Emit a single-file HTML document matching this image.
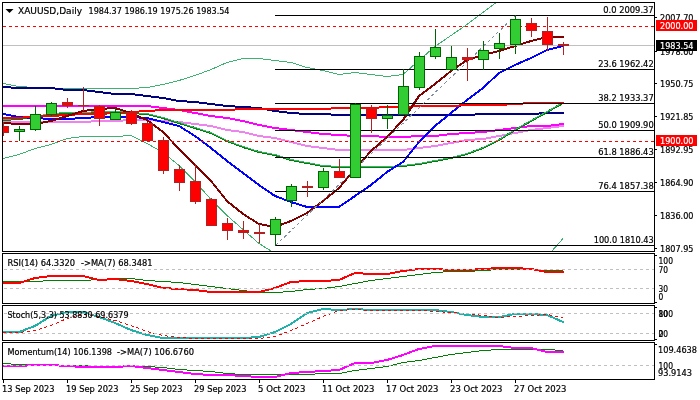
<!DOCTYPE html><html><head><meta charset="utf-8"><style>html,body{margin:0;padding:0;background:#fff;width:700px;height:400px;overflow:hidden}</style></head><body><svg width="700" height="400" viewBox="0 0 700 400" style="display:block" font-family='"DejaVu Sans Condensed", "DejaVu Sans", "Liberation Sans", sans-serif'>
<rect x="0" y="0" width="700" height="400" fill="#fff"/>
<defs><clipPath id="cm"><rect x="3" y="3" width="651" height="248"/></clipPath><clipPath id="cr"><rect x="3" y="254" width="651" height="49"/></clipPath><clipPath id="cs"><rect x="3" y="306" width="651" height="34"/></clipPath><clipPath id="cmo"><rect x="3" y="343" width="651" height="36"/></clipPath></defs>
<g clip-path="url(#cm)" shape-rendering="crispEdges" stroke-linejoin="round">
<polyline points="3,83.5 19,86.5 35,87.5 51,88.5 67,88.5 83,88.5 99,88.5 115,88.5 131,88.5 147,87.5 163,84.5 179,80.5 195,75.5 211,69.5 227,62.5 243,58.5 259,58.5 275,60.5 291,62.5 307,67.5 323,70.5 339,74.5 355,72.5 371,74.5 387,76.5 403,74.5 419,60.5 435,46.5 451,35.5 467,24.5 483,12.5 499,0.5 515,-14.5 531,-24.5 547,-29.5 563,-34.5" fill="none" stroke="#3cb371" stroke-width="1" />
<polyline points="3,158.5 19,154.5 35,148.5 51,144.5 67,138.5 83,136.5 99,136.5 115,136.5 131,135.5 147,143.5 163,152.5 179,165.5 195,181.5 211,199.5 227,215.5 243,229.5 259,243.5 275,253.5 291,260.5 307,272.5 323,278.5 339,283.5 355,288.5 371,292.5 387,295.5 403,297.5 419,298.5 435,298.5 451,297.5 467,295.5 483,292.5 499,288.5 515,282.5 531,274.5 547,256.5 563,238.5" fill="none" stroke="#3cb371" stroke-width="1" />
<polyline points="3,87 19,88 35,88 51,88 67,90 83,90 99,92 115,94 131,94 147,96 163,98 179,101 195,102 211,104 227,106 243,107 259,108 275,111 291,113 307,114 323,114 339,115 355,115 371,115 387,115 403,115 419,115 435,115 451,115 467,115 483,114 499,114 515,114 531,114 547,113 563,113" fill="none" stroke="#000080" stroke-width="2" stroke-linecap="square" />
<polyline points="3,122 19,122 35,122 51,122 67,122 83,122 99,121 115,121 131,120 147,120 163,121 179,122 195,124 211,126 227,130 243,132 259,136 275,138 291,142 307,146 323,148 339,150 355,150 371,150 387,150 403,150 419,148 435,146 451,143 467,140 483,139 499,136 515,133 531,130 547,128 563,126" fill="none" stroke="#ee82ee" stroke-width="2" stroke-linecap="square" />
<polyline points="3,106 19,106 35,106 51,106 67,106 83,106 99,106 115,106 131,106 147,106 163,108 179,110 195,113 211,116 227,118 243,121 259,125 275,128 291,130 307,132 323,134 339,135 355,136 371,136 387,137 403,137 419,136 435,136 451,134 467,133 483,132 499,130 515,128 531,126 547,126 563,124" fill="none" stroke="#ff00ff" stroke-width="2" stroke-linecap="square" />
<polyline points="3,120 19,119 35,117 51,114 67,113 83,113 99,112 115,112 131,113 147,114 163,118 179,123 195,128 211,133 227,141 243,147 259,152 275,155 291,160 307,163 323,166 339,167 355,167 371,167 387,167 403,166 419,164 435,161 451,158 467,154 483,148 499,140 515,130 531,121 547,112 563,103" fill="none" stroke="#008000" stroke-width="2" stroke-linecap="square" />
<polyline points="3,119.5 19,118.5 35,116.5 51,113.5 67,112.5 83,112.5 99,111.5 115,111.5 131,112.5 147,113.5 163,117.5 179,122.5 195,127.5 211,132.5 227,140.5 243,146.5 259,151.5 275,154.5 291,159.5 307,162.5 323,165.5 339,166.5 355,166.5 371,166.5 387,166.5 403,165.5 419,163.5 435,160.5 451,157.5 467,153.5 483,147.5 499,139.5 515,129.5 531,120.5 547,111.5 563,102.5" fill="none" stroke="#3cb371" stroke-width="1" />
<polyline points="3,114 19,117 35,118 51,119 67,119 83,118 99,117 115,117 131,117 147,118 163,122 179,126 195,136 211,148 227,161 243,173 259,185 275,196 291,202 307,207 323,207 339,207 355,196 371,185 387,172 403,162 419,142 435,126 451,113 467,100 483,88 499,73 515,65 531,58 547,50 563,46" fill="none" stroke="#0000ff" stroke-width="2" stroke-linecap="square" />
<polyline points="3,118 19,118 35,116 51,116 67,115 83,114 99,114 115,113 131,112 147,111 163,110 179,110 195,110 211,110 227,110 243,109 259,109 275,109 291,109 307,109 323,109 339,108 355,108 371,108 387,107 403,107 419,106 435,106 451,106 467,105 483,105 499,105 515,104 531,103 547,103 563,103" fill="none" stroke="#ff0000" stroke-width="2" stroke-linecap="square" />
<polyline points="3,123 19,124 35,124 51,121 67,116 83,111 99,109 115,108 131,113 147,120 163,132 179,149 195,165 211,181 227,201 243,214 259,224 275,227 291,221 307,213 323,201 339,188 355,169 371,151 387,137 403,120 419,96 435,84 451,71 467,60 483,55 499,51 515,46 531,41 547,37 563,37" fill="none" stroke="#800000" stroke-width="2" stroke-linecap="square" />
</g>
<g clip-path="url(#cm)" shape-rendering="crispEdges">
<line x1="3" y1="26.5" x2="654" y2="26.5" stroke="#ff0000" stroke-dasharray="3 3"/>
<line x1="3" y1="141.5" x2="654" y2="141.5" stroke="#ff0000" stroke-dasharray="3 3"/>
<line x1="3" y1="45.5" x2="656" y2="45.5" stroke="#c0c0c0"/>
<line x1="275" y1="15.5" x2="654" y2="15.5" stroke="#000"/>
<line x1="275" y1="69.5" x2="654" y2="69.5" stroke="#000"/>
<line x1="275" y1="103.5" x2="654" y2="103.5" stroke="#000"/>
<line x1="275" y1="130.5" x2="654" y2="130.5" stroke="#000"/>
<line x1="275" y1="157.5" x2="654" y2="157.5" stroke="#000"/>
<line x1="275" y1="191.5" x2="654" y2="191.5" stroke="#000"/>
<line x1="275" y1="245.5" x2="654" y2="245.5" stroke="#000"/>
</g>
<line x1="275.5" y1="245.5" x2="515.5" y2="15.5" stroke="#8090a0" stroke-width="1" stroke-dasharray="3 3" clip-path="url(#cm)" shape-rendering="crispEdges"/>
<g clip-path="url(#cm)" shape-rendering="crispEdges">
<line x1="3.5" y1="122" x2="3.5" y2="136" stroke="#b22222"/>
<rect x="-1.5" y="126.5" width="10" height="6" fill="#ff0000" stroke="#b22222"/>
<line x1="19.5" y1="126" x2="19.5" y2="141" stroke="#006400"/>
<rect x="14.5" y="129.5" width="10" height="2" fill="#32cd32" stroke="#006400"/>
<line x1="35.5" y1="106" x2="35.5" y2="131" stroke="#006400"/>
<rect x="30.5" y="114.5" width="10" height="15" fill="#32cd32" stroke="#006400"/>
<line x1="51.5" y1="102" x2="51.5" y2="116" stroke="#006400"/>
<rect x="46.5" y="103.5" width="10" height="11" fill="#32cd32" stroke="#006400"/>
<line x1="67.5" y1="98" x2="67.5" y2="108" stroke="#b22222"/>
<rect x="62.5" y="102.5" width="10" height="3" fill="#ff0000" stroke="#b22222"/>
<line x1="83.5" y1="87" x2="83.5" y2="111" stroke="#b22222"/>
<rect x="78" y="105" width="11" height="1" fill="#b22222"/>
<line x1="99.5" y1="105" x2="99.5" y2="126" stroke="#b22222"/>
<rect x="94.5" y="106.5" width="10" height="12" fill="#ff0000" stroke="#b22222"/>
<line x1="115.5" y1="108" x2="115.5" y2="120" stroke="#006400"/>
<rect x="110.5" y="112.5" width="10" height="7" fill="#32cd32" stroke="#006400"/>
<line x1="131.5" y1="110" x2="131.5" y2="125" stroke="#b22222"/>
<rect x="126.5" y="112.5" width="10" height="11" fill="#ff0000" stroke="#b22222"/>
<line x1="147.5" y1="122" x2="147.5" y2="141" stroke="#b22222"/>
<rect x="142.5" y="123.5" width="10" height="17" fill="#ff0000" stroke="#b22222"/>
<line x1="163.5" y1="137" x2="163.5" y2="174" stroke="#b22222"/>
<rect x="158.5" y="140.5" width="10" height="30" fill="#ff0000" stroke="#b22222"/>
<line x1="179.5" y1="165" x2="179.5" y2="191" stroke="#b22222"/>
<rect x="174.5" y="169.5" width="10" height="13" fill="#ff0000" stroke="#b22222"/>
<line x1="195.5" y1="164" x2="195.5" y2="204" stroke="#b22222"/>
<rect x="190.5" y="181.5" width="10" height="20" fill="#ff0000" stroke="#b22222"/>
<line x1="211.5" y1="198" x2="211.5" y2="226" stroke="#b22222"/>
<rect x="206.5" y="199.5" width="10" height="26" fill="#ff0000" stroke="#b22222"/>
<line x1="227.5" y1="218" x2="227.5" y2="240" stroke="#b22222"/>
<rect x="222.5" y="223.5" width="10" height="7" fill="#ff0000" stroke="#b22222"/>
<line x1="243.5" y1="221" x2="243.5" y2="239" stroke="#b22222"/>
<rect x="238.5" y="230.5" width="10" height="2" fill="#ff0000" stroke="#b22222"/>
<line x1="259.5" y1="224" x2="259.5" y2="243" stroke="#b22222"/>
<rect x="254" y="232" width="11" height="2" fill="#b22222"/>
<line x1="275.5" y1="217" x2="275.5" y2="246" stroke="#006400"/>
<rect x="270.5" y="219.5" width="10" height="15" fill="#32cd32" stroke="#006400"/>
<line x1="291.5" y1="184" x2="291.5" y2="207" stroke="#006400"/>
<rect x="286.5" y="186.5" width="10" height="14" fill="#32cd32" stroke="#006400"/>
<line x1="307.5" y1="181" x2="307.5" y2="197" stroke="#b22222"/>
<rect x="302" y="186" width="11" height="2" fill="#b22222"/>
<line x1="323.5" y1="168" x2="323.5" y2="190" stroke="#006400"/>
<rect x="318.5" y="171.5" width="10" height="16" fill="#32cd32" stroke="#006400"/>
<line x1="339.5" y1="159" x2="339.5" y2="178" stroke="#b22222"/>
<rect x="334.5" y="171.5" width="10" height="6" fill="#ff0000" stroke="#b22222"/>
<line x1="355.5" y1="103" x2="355.5" y2="178" stroke="#006400"/>
<rect x="350.5" y="104.5" width="10" height="73" fill="#32cd32" stroke="#006400"/>
<line x1="371.5" y1="105" x2="371.5" y2="133" stroke="#b22222"/>
<rect x="366.5" y="108.5" width="10" height="10" fill="#ff0000" stroke="#b22222"/>
<line x1="387.5" y1="105" x2="387.5" y2="129" stroke="#006400"/>
<rect x="382.5" y="115.5" width="10" height="3" fill="#32cd32" stroke="#006400"/>
<line x1="403.5" y1="69" x2="403.5" y2="115" stroke="#006400"/>
<rect x="398.5" y="86.5" width="10" height="28" fill="#32cd32" stroke="#006400"/>
<line x1="419.5" y1="52" x2="419.5" y2="90" stroke="#006400"/>
<rect x="414.5" y="56.5" width="10" height="31" fill="#32cd32" stroke="#006400"/>
<line x1="435.5" y1="29" x2="435.5" y2="59" stroke="#006400"/>
<rect x="430.5" y="47.5" width="10" height="9" fill="#32cd32" stroke="#006400"/>
<line x1="451.5" y1="46" x2="451.5" y2="71" stroke="#006400"/>
<rect x="446.5" y="57.5" width="10" height="12" fill="#32cd32" stroke="#006400"/>
<line x1="467.5" y1="48" x2="467.5" y2="81" stroke="#b22222"/>
<rect x="462.5" y="57.5" width="10" height="2" fill="#ff0000" stroke="#b22222"/>
<line x1="483.5" y1="41" x2="483.5" y2="70" stroke="#006400"/>
<rect x="478.5" y="50.5" width="10" height="9" fill="#32cd32" stroke="#006400"/>
<line x1="499.5" y1="33" x2="499.5" y2="59" stroke="#006400"/>
<rect x="494.5" y="43.5" width="10" height="5" fill="#32cd32" stroke="#006400"/>
<line x1="515.5" y1="15" x2="515.5" y2="54" stroke="#006400"/>
<rect x="510.5" y="19.5" width="10" height="25" fill="#32cd32" stroke="#006400"/>
<line x1="531.5" y1="18" x2="531.5" y2="37" stroke="#b22222"/>
<rect x="526.5" y="23.5" width="10" height="7" fill="#ff0000" stroke="#b22222"/>
<line x1="547.5" y1="17" x2="547.5" y2="51" stroke="#b22222"/>
<rect x="542.5" y="31.5" width="10" height="13" fill="#ff0000" stroke="#b22222"/>
<line x1="563.5" y1="42" x2="563.5" y2="55" stroke="#b22222"/>
<rect x="558" y="44" width="11" height="2" fill="#b22222"/>
</g>
<text x="653.7" y="13" font-size="9.5" text-anchor="end" fill="#000" stroke="#000" stroke-width="0.2" textLength="50.5" lengthAdjust="spacingAndGlyphs" >0.0 2009.37</text>
<text x="653.7" y="67" font-size="9.5" text-anchor="end" fill="#000" stroke="#000" stroke-width="0.2" textLength="55.5" lengthAdjust="spacingAndGlyphs" >23.6 1962.42</text>
<text x="653.7" y="101" font-size="9.5" text-anchor="end" fill="#000" stroke="#000" stroke-width="0.2" textLength="55.5" lengthAdjust="spacingAndGlyphs" >38.2 1933.37</text>
<text x="653.7" y="128" font-size="9.5" text-anchor="end" fill="#000" stroke="#000" stroke-width="0.2" textLength="55.5" lengthAdjust="spacingAndGlyphs" >50.0 1909.90</text>
<text x="653.7" y="155" font-size="9.5" text-anchor="end" fill="#000" stroke="#000" stroke-width="0.2" textLength="55.5" lengthAdjust="spacingAndGlyphs" >61.8 1886.43</text>
<text x="653.7" y="189" font-size="9.5" text-anchor="end" fill="#000" stroke="#000" stroke-width="0.2" textLength="55.5" lengthAdjust="spacingAndGlyphs" >76.4 1857.38</text>
<text x="653.7" y="243" font-size="9.5" text-anchor="end" fill="#000" stroke="#000" stroke-width="0.2" textLength="60" lengthAdjust="spacingAndGlyphs" >100.0 1810.43</text>
<path d="M5.5,9 H13.5 L9.5,13 Z" fill="#000"/>
<text x="18" y="14" font-size="9.5" text-anchor="start" fill="#000" stroke="#000" stroke-width="0.2" textLength="64" lengthAdjust="spacingAndGlyphs" >XAUUSD,Daily</text>
<text x="88.5" y="14" font-size="9.5" text-anchor="start" fill="#000" stroke="#000" stroke-width="0.2" textLength="141" lengthAdjust="spacingAndGlyphs" >1984.37 1986.19 1975.26 1983.54</text>
<g clip-path="url(#cr)" shape-rendering="crispEdges">
<polyline points="3,281.5 19,281.5 35,281.5 51,280.5 67,280.5 83,280.5 99,279.5 115,278.5 131,278.5 147,280.5 163,281.5 179,282.5 195,284.5 211,286.5 227,288.5 243,290.5 259,292.5 275,292.5 291,291.5 307,289.5 323,288.5 339,286.5 355,283.5 371,280.5 387,278.5 403,276.5 419,274.5 435,272.5 451,271.5 467,271.5 483,270.5 499,269.5 515,269.5 531,269.5 547,270.5 563,270.5" fill="none" stroke="#008000" stroke-width="1" />
<polyline points="3,283 19,283 35,278 51,276 67,276 83,276 99,280 115,279 131,281 147,284 163,288 179,289 195,290 211,292 227,292 243,292 259,292 275,288 291,282 307,281 323,281 339,280 355,273 371,274 387,274 403,271 419,269 435,269 451,270 467,270 483,269 499,268 515,268 531,269 547,272 563,272" fill="none" stroke="#ff0000" stroke-width="2" stroke-linecap="square" />
</g>
<g shape-rendering="crispEdges">
<line x1="4" y1="269.5" x2="654" y2="269.5" stroke="#c0c0c0" stroke-dasharray="3 3"/>
<line x1="4" y1="288.5" x2="654" y2="288.5" stroke="#c0c0c0" stroke-dasharray="3 3"/>
</g>
<text x="7.5" y="266" font-size="9.5" text-anchor="start" fill="#000" stroke="#000" stroke-width="0.2" textLength="67.5" lengthAdjust="spacingAndGlyphs" >RSI(14) 64.3320</text>
<text x="81" y="266" font-size="9.5" text-anchor="start" fill="#000" stroke="#000" stroke-width="0.2" textLength="71.5" lengthAdjust="spacingAndGlyphs" >-&gt;MA(7) 68.3481</text>
<g clip-path="url(#cs)" shape-rendering="crispEdges">
<polyline points="3,332 19,332 35,326 51,316 67,312 83,312 99,317 115,323 131,330 147,335 163,338 179,338 195,338 211,338 227,338 243,338 259,337 275,332 291,324 307,313 323,309 339,310 355,309 371,310 387,310 403,310 419,310 435,310 451,312 467,315 483,317 499,317 515,314 531,314 547,315 563,322" fill="none" stroke="#20b2aa" stroke-width="2" stroke-linecap="square" />
<polyline points="3,332.5 19,332.5 35,330.5 51,325.5 67,318.5 83,314.5 99,316.5 115,320.5 131,325.5 147,331.5 163,335.5 179,337.5 195,338.5 211,338.5 227,338.5 243,338.5 259,338.5 275,336.5 291,330.5 307,323.5 323,316.5 339,310.5 355,309.5 371,310.5 387,310.5 403,310.5 419,310.5 435,311.5 451,312.5 467,313.5 483,315.5 499,317.5 515,316.5 531,315.5 547,314.5 563,317.5" fill="none" stroke="#ff0000" stroke-width="1" stroke-dasharray="3 3"/>
</g>
<g shape-rendering="crispEdges">
<line x1="4" y1="313.5" x2="654" y2="313.5" stroke="#c0c0c0" stroke-dasharray="3 3"/>
<line x1="4" y1="333.5" x2="654" y2="333.5" stroke="#c0c0c0" stroke-dasharray="3 3"/>
</g>
<text x="7.5" y="318" font-size="9.5" text-anchor="start" fill="#000" stroke="#000" stroke-width="0.2" textLength="121" lengthAdjust="spacingAndGlyphs" >Stoch(5,3,3) 53.8830 69.6379</text>
<g clip-path="url(#cmo)" shape-rendering="crispEdges">
<polyline points="3,363.5 19,364.5 35,364.5 51,364.5 67,365.5 83,365.5 99,366.5 115,366.5 131,366.5 147,366.5 163,367.5 179,369.5 195,370.5 211,371.5 227,373.5 243,374.5 259,374.5 275,374.5 291,374.5 307,374.5 323,373.5 339,373.5 355,370.5 371,368.5 387,366.5 403,362.5 419,360.5 435,357.5 451,354.5 467,352.5 483,350.5 499,349.5 515,349.5 531,349.5 547,349.5 563,350.5" fill="none" stroke="#008000" stroke-width="1" />
<polyline points="3,366 19,366 35,365 51,365 67,366 83,367 99,367 115,367 131,366 147,368 163,370 179,372 195,374 211,375 227,375 243,376 259,377 275,377 291,373 307,372 323,371 339,370 355,363 371,363 387,360 403,355 419,349 435,346 451,346 467,346 483,346 499,346 515,348 531,348 547,352 563,352" fill="none" stroke="#ff00ff" stroke-width="2" stroke-linecap="square" />
</g>
<g shape-rendering="crispEdges">
<line x1="4" y1="365.5" x2="654" y2="365.5" stroke="#c0c0c0" stroke-dasharray="3 3"/>
</g>
<text x="7.5" y="355" font-size="9.5" text-anchor="start" fill="#000" stroke="#000" stroke-width="0.2" textLength="104.5" lengthAdjust="spacingAndGlyphs" >Momentum(14) 106.1398</text>
<text x="117" y="355" font-size="9.5" text-anchor="start" fill="#000" stroke="#000" stroke-width="0.2" textLength="77" lengthAdjust="spacingAndGlyphs" >-&gt;MA(7) 106.6760</text>
<g fill="none" stroke="#000" shape-rendering="crispEdges">
<rect x="2.5" y="2.5" width="652" height="249"/>
<rect x="2.5" y="253.5" width="652" height="50"/>
<rect x="2.5" y="305.5" width="652" height="35"/>
<rect x="2.5" y="342.5" width="652" height="37"/>
</g>
<g stroke="#000" shape-rendering="crispEdges">
<line x1="655" y1="17.5" x2="657" y2="17.5"/>
<line x1="655" y1="51.5" x2="657" y2="51.5"/>
<line x1="655" y1="83.5" x2="657" y2="83.5"/>
<line x1="655" y1="116.5" x2="657" y2="116.5"/>
<line x1="655" y1="149.5" x2="657" y2="149.5"/>
<line x1="655" y1="182.5" x2="657" y2="182.5"/>
<line x1="655" y1="215.5" x2="657" y2="215.5"/>
<line x1="655" y1="248.5" x2="657" y2="248.5"/>
<line x1="655" y1="255.5" x2="657" y2="255.5"/>
<line x1="655" y1="302.5" x2="657" y2="302.5"/>
<line x1="655" y1="307.5" x2="657" y2="307.5"/>
<line x1="655" y1="339.5" x2="657" y2="339.5"/>
<line x1="655" y1="344.5" x2="657" y2="344.5"/>
</g>
<text x="660" y="21" font-size="9.5" text-anchor="start" fill="#000" stroke="#000" stroke-width="0.2" textLength="33.5" lengthAdjust="spacingAndGlyphs" >2007.70</text>
<text x="660" y="55" font-size="9.5" text-anchor="start" fill="#000" stroke="#000" stroke-width="0.2" textLength="33.5" lengthAdjust="spacingAndGlyphs" >1978.60</text>
<text x="660" y="87" font-size="9.5" text-anchor="start" fill="#000" stroke="#000" stroke-width="0.2" textLength="33.5" lengthAdjust="spacingAndGlyphs" >1950.75</text>
<text x="660" y="120" font-size="9.5" text-anchor="start" fill="#000" stroke="#000" stroke-width="0.2" textLength="33.5" lengthAdjust="spacingAndGlyphs" >1921.85</text>
<text x="660" y="153" font-size="9.5" text-anchor="start" fill="#000" stroke="#000" stroke-width="0.2" textLength="33.5" lengthAdjust="spacingAndGlyphs" >1892.95</text>
<text x="660" y="186" font-size="9.5" text-anchor="start" fill="#000" stroke="#000" stroke-width="0.2" textLength="33.5" lengthAdjust="spacingAndGlyphs" >1864.90</text>
<text x="660" y="219" font-size="9.5" text-anchor="start" fill="#000" stroke="#000" stroke-width="0.2" textLength="33.5" lengthAdjust="spacingAndGlyphs" >1836.00</text>
<text x="660" y="252" font-size="9.5" text-anchor="start" fill="#000" stroke="#000" stroke-width="0.2" textLength="33.5" lengthAdjust="spacingAndGlyphs" >1807.95</text>
<rect x="656" y="20" width="41" height="11" fill="#ff0000"/>
<text x="660" y="29" font-size="9.5" text-anchor="start" fill="#fff" stroke="#fff" stroke-width="0.2" textLength="33.5" lengthAdjust="spacingAndGlyphs" >2000.00</text>
<rect x="656" y="40" width="41" height="11" fill="#000"/>
<text x="660" y="49" font-size="9.5" text-anchor="start" fill="#fff" stroke="#fff" stroke-width="0.2" textLength="33.5" lengthAdjust="spacingAndGlyphs" >1983.54</text>
<rect x="656" y="135" width="41" height="11" fill="#ff0000"/>
<text x="660" y="144" font-size="9.5" text-anchor="start" fill="#fff" stroke="#fff" stroke-width="0.2" textLength="33.5" lengthAdjust="spacingAndGlyphs" >1900.00</text>
<text x="658.5" y="264" font-size="9.5" text-anchor="start" fill="#000" stroke="#000" stroke-width="0.2" textLength="14.5" lengthAdjust="spacingAndGlyphs" >100</text>
<text x="658.5" y="273" font-size="9.5" text-anchor="start" fill="#000" stroke="#000" stroke-width="0.2" textLength="9.5" lengthAdjust="spacingAndGlyphs" >70</text>
<text x="658.5" y="292" font-size="9.5" text-anchor="start" fill="#000" stroke="#000" stroke-width="0.2" textLength="9.5" lengthAdjust="spacingAndGlyphs" >30</text>
<text x="658.5" y="300" font-size="9.5" text-anchor="start" fill="#000" stroke="#000" stroke-width="0.2" textLength="4.8" lengthAdjust="spacingAndGlyphs" >0</text>
<text x="658.5" y="317" font-size="9.5" text-anchor="start" fill="#000" stroke="#000" stroke-width="0.2" textLength="14.5" lengthAdjust="spacingAndGlyphs" >100</text>
<text x="658.5" y="317" font-size="9.5" text-anchor="start" fill="#000" stroke="#000" stroke-width="0.2" textLength="9.5" lengthAdjust="spacingAndGlyphs" >80</text>
<text x="658.5" y="337" font-size="9.5" text-anchor="start" fill="#000" stroke="#000" stroke-width="0.2" textLength="9.5" lengthAdjust="spacingAndGlyphs" >20</text>
<text x="658.5" y="337" font-size="9.5" text-anchor="start" fill="#000" stroke="#000" stroke-width="0.2" textLength="4.8" lengthAdjust="spacingAndGlyphs" >0</text>
<text x="658" y="353" font-size="9.5" text-anchor="start" fill="#000" stroke="#000" stroke-width="0.2" textLength="39" lengthAdjust="spacingAndGlyphs" >109.4638</text>
<text x="658.5" y="369" font-size="9.5" text-anchor="start" fill="#000" stroke="#000" stroke-width="0.2" textLength="14.5" lengthAdjust="spacingAndGlyphs" >100</text>
<text x="658" y="376" font-size="9.5" text-anchor="start" fill="#000" stroke="#000" stroke-width="0.2" textLength="34" lengthAdjust="spacingAndGlyphs" >93.9143</text>
<g stroke="#000" shape-rendering="crispEdges">
<line x1="3.5" y1="380" x2="3.5" y2="383"/>
<line x1="67.5" y1="380" x2="67.5" y2="383"/>
<line x1="131.5" y1="380" x2="131.5" y2="383"/>
<line x1="195.5" y1="380" x2="195.5" y2="383"/>
<line x1="259.5" y1="380" x2="259.5" y2="383"/>
<line x1="323.5" y1="380" x2="323.5" y2="383"/>
<line x1="387.5" y1="380" x2="387.5" y2="383"/>
<line x1="451.5" y1="380" x2="451.5" y2="383"/>
<line x1="515.5" y1="380" x2="515.5" y2="383"/>
</g>
<text x="2" y="392" font-size="9.5" text-anchor="start" fill="#000" stroke="#000" stroke-width="0.2" textLength="52.5" lengthAdjust="spacingAndGlyphs" >13 Sep 2023</text>
<text x="66" y="392" font-size="9.5" text-anchor="start" fill="#000" stroke="#000" stroke-width="0.2" textLength="52.5" lengthAdjust="spacingAndGlyphs" >19 Sep 2023</text>
<text x="130" y="392" font-size="9.5" text-anchor="start" fill="#000" stroke="#000" stroke-width="0.2" textLength="52.5" lengthAdjust="spacingAndGlyphs" >25 Sep 2023</text>
<text x="194" y="392" font-size="9.5" text-anchor="start" fill="#000" stroke="#000" stroke-width="0.2" textLength="52.5" lengthAdjust="spacingAndGlyphs" >29 Sep 2023</text>
<text x="258" y="392" font-size="9.5" text-anchor="start" fill="#000" stroke="#000" stroke-width="0.2" textLength="47.5" lengthAdjust="spacingAndGlyphs" >5 Oct 2023</text>
<text x="322" y="392" font-size="9.5" text-anchor="start" fill="#000" stroke="#000" stroke-width="0.2" textLength="52.5" lengthAdjust="spacingAndGlyphs" >11 Oct 2023</text>
<text x="386" y="392" font-size="9.5" text-anchor="start" fill="#000" stroke="#000" stroke-width="0.2" textLength="52.5" lengthAdjust="spacingAndGlyphs" >17 Oct 2023</text>
<text x="450" y="392" font-size="9.5" text-anchor="start" fill="#000" stroke="#000" stroke-width="0.2" textLength="52.5" lengthAdjust="spacingAndGlyphs" >23 Oct 2023</text>
<text x="514" y="392" font-size="9.5" text-anchor="start" fill="#000" stroke="#000" stroke-width="0.2" textLength="52.5" lengthAdjust="spacingAndGlyphs" >27 Oct 2023</text>
</svg></body></html>
